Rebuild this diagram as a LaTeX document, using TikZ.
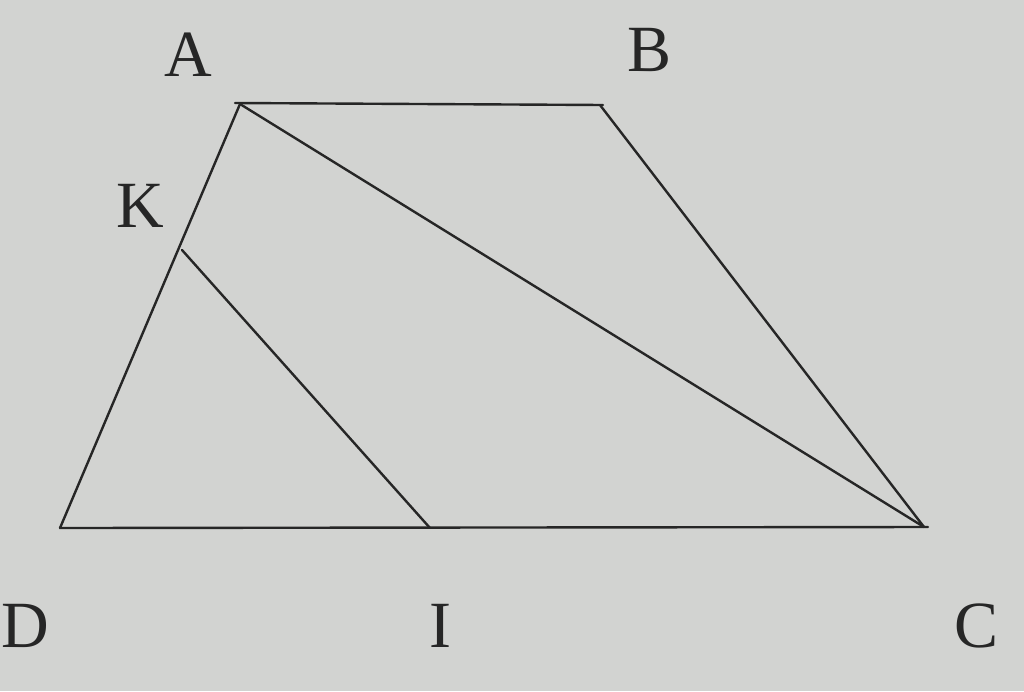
\documentclass[tikz,border=0pt]{standalone}
\usepackage{fontspec}
\setmainfont{Liberation Serif}
\usetikzlibrary{calc}
\definecolor{paper}{HTML}{D2D3D1}
\definecolor{ink}{HTML}{262626}
\begin{document}
\begin{tikzpicture}[x=1pt,y=-1pt,
  seg/.style={draw=ink,line width=2.4pt,line cap=round},
  lbl/.style={text=ink,font=\fontsize{66}{66}\selectfont,inner sep=0pt}]
\fill[paper] (0,0) rectangle (1024,691);
\useasboundingbox (0,0) rectangle (1024,691);
\coordinate (A) at (240,104);
\coordinate (B) at (600,105);
\coordinate (C) at (924,527);
\coordinate (D) at (60,528);
\coordinate (K) at (182,250);
\coordinate (I) at (430,528);
\draw[seg] ($(A)+(-5,-1)$) -- ($(B)+(3,0)$);
\draw[seg] (A) -- (D);
\draw[seg] (B) -- (C);
\draw[seg] (A) -- (C);
\draw[seg] (D) -- ($(C)+(4,0)$);
\draw[seg] (K) -- (I);
\node[lbl] (lA) at (188,55) {A};
\node[lbl] (lB) at (650,50) {B};
\node[lbl] (lK) at (140,206) {K};
\node[lbl] (lD) at (25,626) {D};
\node[lbl] (lI) at (440,626) {I};
\node[lbl] (lC) at (976,626) {C};
\end{tikzpicture}
\end{document}
